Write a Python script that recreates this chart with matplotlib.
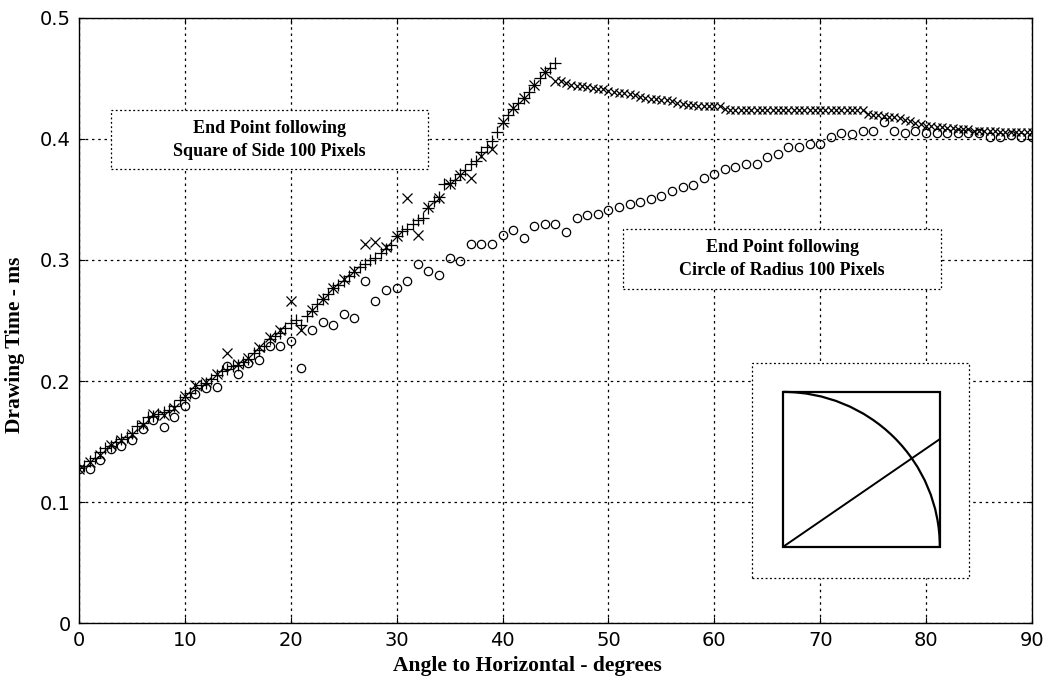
import numpy as np
import matplotlib
matplotlib.use("Agg")
import matplotlib.pyplot as plt
from matplotlib.patches import Rectangle, Arc

# square path, '+' markers, 0-45 deg every half degree
sq_plus_ang = np.arange(0, 45.5, 0.5)
sq_plus_t = [0.128, 0.130, 0.134, 0.136, 0.141, 0.145, 0.146, 0.150, 0.152, 0.154,
             0.157, 0.163, 0.165, 0.170, 0.171, 0.173, 0.174, 0.176, 0.179, 0.184,
             0.187, 0.190, 0.194, 0.197, 0.198, 0.202, 0.205, 0.208, 0.210, 0.212,
             0.213, 0.216, 0.218, 0.223, 0.226, 0.229, 0.235, 0.237, 0.240, 0.244,
             0.248, 0.250, 0.246, 0.254, 0.258, 0.264, 0.268, 0.272, 0.277, 0.279,
             0.283, 0.287, 0.290, 0.294, 0.297, 0.300, 0.302, 0.306, 0.309, 0.312,
             0.320, 0.324, 0.326, 0.330, 0.333, 0.335, 0.343, 0.349, 0.352, 0.363,
             0.364, 0.366, 0.371, 0.374, 0.379, 0.382, 0.389, 0.393, 0.398, 0.406,
             0.413, 0.420, 0.425, 0.430, 0.434, 0.439, 0.445, 0.450, 0.455, 0.459,
             0.463]

# square path, 'x' markers, 0-45 deg every degree
sq_x1_ang = np.arange(0, 46, 1)
sq_x1_t = [0.127, 0.133, 0.139, 0.147, 0.151, 0.156, 0.164, 0.173, 0.172, 0.178,
           0.188, 0.197, 0.199, 0.206, 0.223, 0.214, 0.219, 0.228, 0.236, 0.242,
           0.266, 0.242, 0.259, 0.268, 0.277, 0.284, 0.291, 0.313, 0.315, 0.311,
           0.320, 0.351, 0.321, 0.344, 0.351, 0.363, 0.370, 0.368, 0.386, 0.392,
           0.414, 0.426, 0.434, 0.445, 0.455, 0.448]

# square path, 'x' markers, 45.5-90 deg every half degree
sq_x2_ang = np.arange(45.5, 90.5, 0.5)
sq_x2_t = [0.448, 0.446, 0.445, 0.444, 0.444, 0.443, 0.442, 0.441, 0.441, 0.440,
           0.439, 0.438, 0.438, 0.437, 0.436, 0.435, 0.434, 0.433, 0.433, 0.432,
           0.432, 0.431, 0.430, 0.429, 0.428, 0.428, 0.427, 0.427, 0.427, 0.427,
           0.427, 0.425, 0.424, 0.424, 0.424, 0.424, 0.424, 0.424, 0.424, 0.424,
           0.424, 0.424, 0.424, 0.424, 0.424, 0.424, 0.424, 0.424, 0.424, 0.424,
           0.424, 0.424, 0.424, 0.424, 0.424, 0.424, 0.424, 0.424, 0.421, 0.420,
           0.420, 0.419, 0.418, 0.418, 0.417, 0.416, 0.415, 0.413, 0.412, 0.411,
           0.411, 0.410, 0.410, 0.409, 0.409, 0.408, 0.408, 0.408, 0.407, 0.407,
           0.407, 0.407, 0.407, 0.406, 0.406, 0.406, 0.406, 0.406, 0.406, 0.406]

# circle path, 'o' markers, every degree
circ_ang = np.arange(0, 91, 1)
circ_t = [0.127, 0.127, 0.135, 0.144, 0.146, 0.151, 0.160, 0.168, 0.162, 0.170,
          0.179, 0.189, 0.194, 0.195, 0.212, 0.206, 0.215, 0.217, 0.229, 0.229,
          0.233, 0.211, 0.242, 0.249, 0.246, 0.255, 0.252, 0.283, 0.266, 0.275,
          0.277, 0.283, 0.297, 0.291, 0.288, 0.302, 0.299, 0.313, 0.313, 0.313,
          0.321, 0.325, 0.318, 0.328, 0.330, 0.330, 0.323, 0.335, 0.337, 0.338,
          0.341, 0.344, 0.346, 0.348, 0.350, 0.353, 0.357, 0.360, 0.362, 0.368,
          0.371, 0.375, 0.377, 0.379, 0.379, 0.385, 0.388, 0.393, 0.393, 0.396,
          0.396, 0.402, 0.405, 0.404, 0.407, 0.407, 0.414, 0.407, 0.405, 0.407,
          0.405, 0.405, 0.405, 0.405, 0.405, 0.405, 0.402, 0.402, 0.403, 0.402,
          0.402]

xticks = [0, 10, 20, 30, 40, 50, 60, 70, 80, 90]
yticks = [0, 0.1, 0.2, 0.3, 0.4, 0.5]
ytick_labels = ["0", "0.1", "0.2", "0.3", "0.4", "0.5"]

serif = "Liberation Serif"
sans = "DejaVu Sans"

fig = plt.figure(figsize=(10.48, 6.92), dpi=100)
ax = fig.add_axes([0.0754, 0.0997, 0.9093, 0.8743])

ax.plot(sq_plus_ang, sq_plus_t, ls="none", marker="+", ms=8, mew=0.9, color="k", zorder=3)
ax.plot(sq_x1_ang, sq_x1_t, ls="none", marker="x", ms=6.5, mew=0.9, color="k", zorder=3)
ax.plot(sq_x2_ang, sq_x2_t, ls="none", marker="x", ms=6, mew=0.9, color="k", zorder=3)
ax.plot(circ_ang, circ_t, ls="none", marker="o", ms=6, mew=0.9, mfc="none", color="k", zorder=3)

ax.set_xlim(0, 90)
ax.set_ylim(0, 0.5)
ax.set_xticks(xticks)
ax.set_yticks(yticks)
ax.set_yticklabels(ytick_labels)
ax.grid(True, ls=(0, (2, 3)), color="k", lw=0.9)
ax.tick_params(direction="in", top=True, right=True, length=4, width=0.8,
               labelsize=14, pad=6)
for lab in ax.get_xticklabels() + ax.get_yticklabels():
    lab.set_family(sans)
for s in ax.spines.values():
    s.set_linewidth(1.0)

ax.set_xlabel("Angle to Horizontal - degrees", family=serif, weight="bold", fontsize=15.5)
ax.xaxis.set_label_coords(0.471, -0.055)
ax.set_ylabel("Drawing Time - ms", family=serif, weight="bold", fontsize=15.5)
ax.yaxis.set_label_coords(-0.057, 0.46)

# annotation boxes
ax.add_patch(Rectangle((3.0, 0.375), 30.0, 0.049, fc="white", ec="k", ls=(0, (1.5, 2)), lw=0.9, zorder=4))
ax.text(18.0, 0.3995, "End Point following\nSquare of Side 100 Pixels", ha="center", va="center",
        family=serif, weight="bold", fontsize=13, linespacing=1.45, zorder=5)

ax.add_patch(Rectangle((51.4, 0.276), 30.0, 0.0496, fc="white", ec="k", ls=(0, (1.5, 2)), lw=0.9, zorder=4))
ax.text(66.4, 0.3008, "End Point following\nCircle of Radius 100 Pixels", ha="center", va="center",
        family=serif, weight="bold", fontsize=13, linespacing=1.45, zorder=5)

# inset sketch
ax.add_patch(Rectangle((63.6, 0.037), 20.5, 0.178, fc="white", ec="k", ls=(0, (1.5, 2)), lw=0.9, zorder=4))
ax.add_patch(Rectangle((66.5, 0.063), 14.8, 0.128, fc="white", ec="k", lw=1.6, zorder=5))
ax.add_patch(Arc((66.5, 0.063), 2 * 14.8, 2 * 0.128, theta1=0, theta2=90, color="k", lw=1.6, zorder=6))
ax.plot([66.5, 81.3], [0.063, 0.152], color="k", lw=1.4, zorder=6)

fig.savefig("out.png", dpi=100)
